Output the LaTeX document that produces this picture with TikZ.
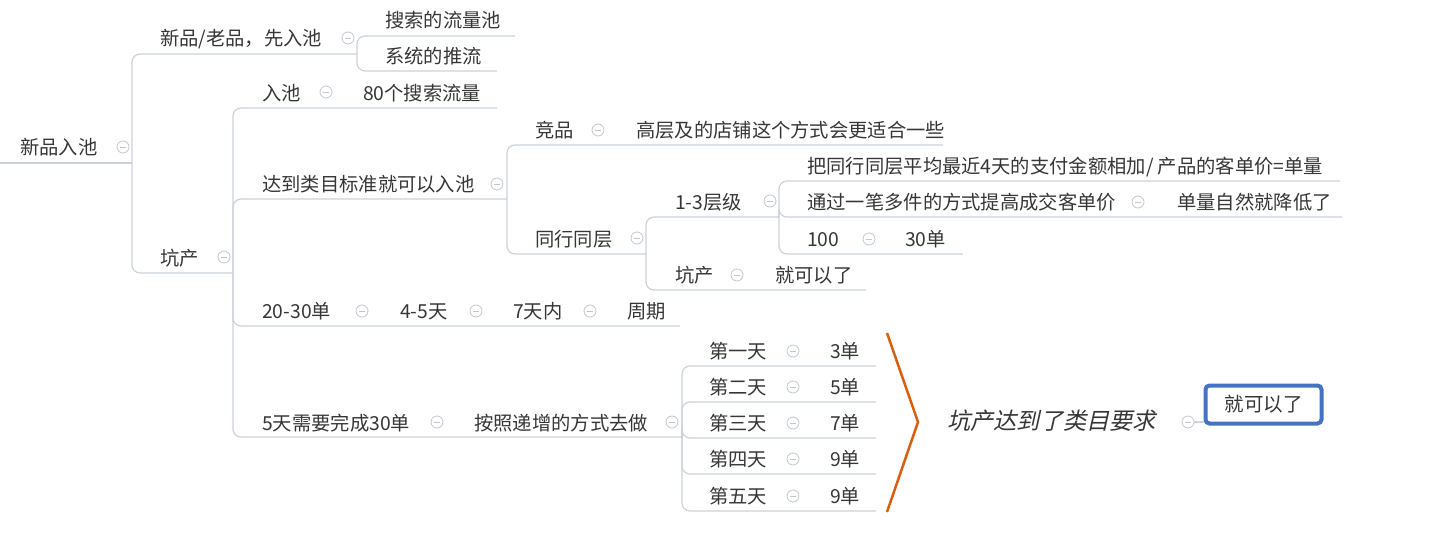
\documentclass[tikz,border=0pt]{standalone}
\usepackage{fontspec}
\newfontfamily\cjk{Noto Sans CJK SC}
\newfontfamily\cjkit[FakeSlant=0.22]{Noto Sans CJK SC}
\definecolor{txt}{HTML}{363636}
\definecolor{ln}{HTML}{CDD1DA}
\definecolor{cl}{HTML}{C2C6CE}
\definecolor{org}{HTML}{D95F0E}
\definecolor{blu}{HTML}{4472C4}
\tikzset{
 t/.style={font=\cjk\fontsize{19.3}{22}\selectfont, text=txt, inner sep=0pt, anchor=west, text height=15pt, text depth=2pt},
 conn/.style={draw=ln, line width=1.2pt, rounded corners=8pt},
 coll/.style={circle, draw=cl, line width=0.8pt, minimum size=12pt, inner sep=0pt,
   path picture={\draw[cl, line width=0.8pt] ([xshift=-3pt]path picture bounding box.center) -- ([xshift=3pt]path picture bounding box.center);}},
}
\begin{document}
\begin{tikzpicture}[x=1pt,y=-1pt]
\useasboundingbox (0,0) rectangle (1433,533);
% ---------- coordinates of underline ends
\coordinate (root-s) at (0,163);
\coordinate (root-e) at (132,163);
\coordinate (A-e) at (357,54);
\coordinate (B-e) at (233,273);
\coordinate (A1-e) at (515,36);
\coordinate (A2-e) at (497,71);
\coordinate (B1-e) at (497,108);
\coordinate (B2-e) at (507,199);
\coordinate (B3-e) at (680,326);
\coordinate (B4-e) at (682,437);
\coordinate (C1-e) at (943,145);
\coordinate (C2-e) at (646,254);
\coordinate (D1-e) at (779,217);
\coordinate (D2-e) at (866,290);
\coordinate (E1-e) at (1340,181);
\coordinate (E2-e) at (1342,217);
\coordinate (E3-e) at (963,254);
\coordinate (F1-e) at (876,366);
\coordinate (F2-e) at (876,402);
\coordinate (F3-e) at (876,438);
\coordinate (F4-e) at (876,474);
\coordinate (F5-e) at (876,511);
% ---------- connectors
\draw[conn] (root-s) -- (root-e);
\draw[conn] (root-e) |- (A-e);
\draw[conn] (root-e) |- (B-e);
\draw[conn] (A-e) |- (A1-e);
\draw[conn] (A-e) |- (A2-e);
\draw[conn] (B-e) |- (B1-e);
\draw[conn] (B-e) |- (B2-e);
\draw[conn] (B-e) |- (B3-e);
\draw[conn] (B-e) |- (B4-e);
\draw[conn] (B2-e) |- (C1-e);
\draw[conn] (B2-e) |- (C2-e);
\draw[conn] (C2-e) |- (D1-e);
\draw[conn] (C2-e) |- (D2-e);
\draw[conn] (D1-e) |- (E1-e);
\draw[conn] (D1-e) |- (E2-e);
\draw[conn] (D1-e) |- (E3-e);
\draw[conn] (B4-e) |- (F1-e);
\draw[conn] (B4-e) |- (F2-e);
\draw[conn] (B4-e) |- (F3-e);
\draw[conn] (B4-e) |- (F4-e);
\draw[conn] (B4-e) |- (F5-e);
% ---------- texts
\node[t] (root) at (20,148) {新品入池};
\node[coll] (c-root) at (123,147) {};
\node[t] (A) at (160,39) {新品/老品，先入池};
\node[coll] (c-A) at (348,38) {};
\node[t] (B) at (160,259) {坑产};
\node[coll] (c-B) at (224,257) {};
\node[t] (A1) at (385,21) {搜索的流量池};
\node[t] (A2) at (385,57) {系统的推流};
\node[t] (B1) at (262,94) {入池};
\node[coll] (c-B1) at (326,92) {};
\node[t] (B1a) at (363,94) {80个搜索流量};
\node[t] (B2) at (262,185) {达到类目标准就可以入池};
\node[coll] (c-B2) at (497,184) {};
\node[t] (B3) at (262,312) {20-30单};
\node[coll] (c-B3) at (362,311) {};
\node[t] (B3a) at (400,312) {4-5天};
\node[coll] (c-B3a) at (476,311) {};
\node[t] (B3b) at (513,312) {7天内};
\node[coll] (c-B3b) at (590,311) {};
\node[t] (B3c) at (627,312) {周期};
\node[t] (B4) at (262,424) {5天需要完成30单};
\node[coll] (c-B4) at (437,422) {};
\node[t] (B4a) at (474,424) {按照递增的方式去做};
\node[coll] (c-B4a) at (672,422) {};
\node[t] (C1) at (535,131) {竞品};
\node[coll] (c-C1) at (598,130) {};
\node[t] (C1a) at (636,131) {高层及的店铺这个方式会更适合一些};
\node[t] (C2) at (535,240) {同行同层};
\node[coll] (c-C2) at (637,238) {};
\node[t] (D1) at (675,203) {1-3层级};
\node[coll] (c-D1) at (770,201) {};
\node[t] (D2) at (675,276) {坑产};
\node[coll] (c-D2) at (737,275) {};
\node[t] (D2a) at (775,276) {就可以了};
\node[t] (E1) at (807,167) {把同行同层平均最近4天的支付金额相加/ 产品的客单价=单量};
\node[t] (E2) at (807,203) {通过一笔多件的方式提高成交客单价};
\node[coll] (c-E2) at (1138,202) {};
\node[t] (E2a) at (1177,203) {单量自然就降低了};
\node[t] (E3) at (807,240) {100};
\node[coll] (c-E3) at (869,239) {};
\node[t] (E3a) at (905,240) {30单};
\node[t] (F1) at (709,352) {第一天};
\node[coll] (c-F1) at (793,351) {};
\node[t] (F1a) at (830,352) {3单};
\node[t] (F2) at (709,388) {第二天};
\node[coll] (c-F2) at (793,387) {};
\node[t] (F2a) at (830,388) {5单};
\node[t] (F3) at (709,424) {第三天};
\node[coll] (c-F3) at (793,423) {};
\node[t] (F3a) at (830,424) {7单};
\node[t] (F4) at (709,460) {第四天};
\node[coll] (c-F4) at (793,459) {};
\node[t] (F4a) at (830,460) {9单};
\node[t] (F5) at (709,497) {第五天};
\node[coll] (c-F5) at (793,496) {};
\node[t] (F5a) at (830,497) {9单};
% ---------- bracket and summary
\coordinate (br1) at (887,333);
\coordinate (br2) at (918,422);
\coordinate (br3) at (887,512);
\draw[org, line width=2.5pt, line join=miter] (br1) -- (br2) -- (br3);
\node[t, font=\cjkit\fontsize{23.2}{27}\selectfont] (S) at (947,423) {坑产达到了类目要求};
\node[coll] (c-S) at (1188,422) {};
\node[draw=blu, line width=4pt, rounded corners=4pt, minimum width=116pt, minimum height=38pt, inner sep=0pt,
  font=\cjk\fontsize{19.5}{22}\selectfont, text=txt] (box) at (1263.5,404.5) {就可以了};
\draw[conn] (c-S.east) -- (c-S.east -| box.west);
\end{tikzpicture}
\end{document}
